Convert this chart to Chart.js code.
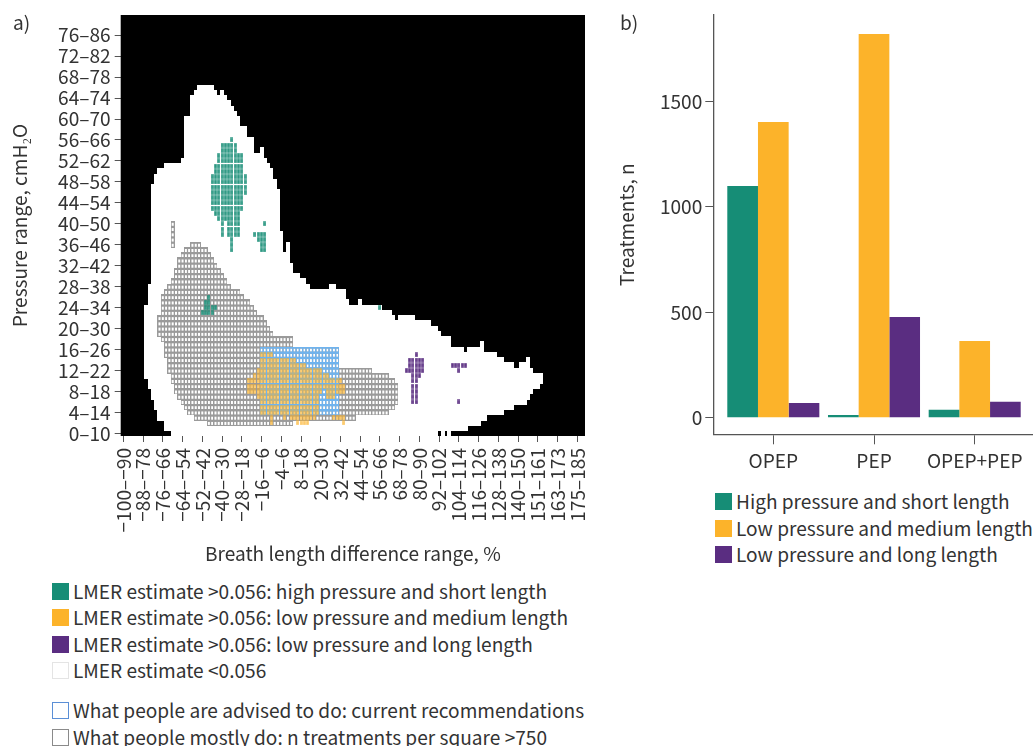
<!DOCTYPE html>
<html><head><meta charset="utf-8">
<script src="https://cdn.jsdelivr.net/npm/chart.js@4"></script>
<style>
html,body{margin:0;padding:0;background:#fff;width:1035px;height:746px;overflow:hidden;font-family:"Noto Sans CJK SC","Noto Sans",sans-serif;color:#333}
canvas{position:absolute;display:block}
.t{position:absolute;font-size:19.1px;line-height:26px;white-space:nowrap}
.s{position:absolute;width:17px;height:17px;box-sizing:border-box}
</style></head><body>
<canvas id="a" width="600" height="570" style="left:0;top:0;width:600px;height:570px"></canvas>
<canvas id="b" width="425" height="480" style="left:610px;top:0;width:425px;height:480px"></canvas>
<div id="labels"></div>
<script>
const xTickLabels=["−100–−90","−88–−78","−76–−66","−64–−54","−52–−42","−40–−30","−28–−18","−16–−6","−4–6","8–18","20–30","32–42","44–54","56–66","68–78","80–90","92–102","104–114","116–126","128–138","140–150","151–161","163–173","175–185"];
const yTickLabels=["0–10","4–14","8–18","12–22","16–26","20–30","24–34","28–38","32–42","36–46","40–50","44–54","48–58","52–62","56–66","60–70","64–74","68–78","72–82","76–86"];
const xTickCells=[0,6,12,18,24,30,36,42,48,54,60,66,72,78,84,90,96,102,108,114,120,126,132,138];
const yTickCells=[0,4,8,12,16,20,24,28,32,36,40,44,48,52,56,60,64,68,72,76];
// cell blocks: [rowFrom,rowTo,colFrom,colTo]
const observedCells=[[66,66,23,27],[65,65,22,28],[65,65,30,30],[64,64,21,31],[63,63,21,32],[62,62,21,33],[61,61,21,34],[59,60,19,35],[57,58,19,37],[55,56,19,39],[54,54,19,39],[54,54,42,42],[53,53,19,42],[52,52,18,43],[51,51,13,44],[50,50,11,45],[49,49,10,45],[48,48,10,46],[47,47,9,46],[39,46,9,47],[37,38,9,48],[35,36,9,48],[35,36,50,50],[33,34,9,50],[31,32,9,51],[30,30,9,53],[29,29,9,55],[28,28,8,56],[28,28,63,64],[26,27,8,67],[25,25,8,68],[25,25,72,72],[24,24,7,78],[23,23,7,81],[22,22,7,82],[22,22,84,88],[21,21,7,93],[20,20,7,95],[19,19,7,96],[17,18,7,99],[17,17,109,109],[16,16,7,103],[16,16,105,109],[15,15,7,113],[14,14,7,115],[14,14,123,123],[13,13,7,118],[13,13,121,123],[12,12,7,124],[11,11,7,127],[10,10,8,127],[9,9,8,126],[8,8,9,124],[7,7,9,123],[6,6,10,122],[5,5,10,118],[4,4,11,115],[3,3,11,110],[2,2,13,108],[1,1,13,104],[0,0,15,95],[0,0,97,97],[0,0,99,99]];
const mostlyDoCells=[[36,36,21,23],[35,35,19,25],[34,34,18,26],[33,33,17,27],[32,32,17,28],[31,31,16,29],[30,30,16,30],[29,29,15,31],[28,28,14,32],[27,27,13,35],[26,26,12,36],[25,25,12,38],[24,24,12,39],[23,23,12,40],[22,22,11,42],[21,21,11,43],[20,20,11,44],[19,19,11,45],[18,18,12,51],[17,17,13,51],[16,16,13,65],[15,15,13,65],[14,14,14,65],[13,13,14,65],[12,12,14,75],[11,11,15,80],[10,10,15,82],[9,9,16,83],[8,8,16,83],[7,7,17,83],[6,6,18,83],[5,5,19,82],[4,4,20,80],[3,3,22,70],[2,2,26,51],[36,40,15,15]];
const advisedCells=[[4,16,42,65]];
const highShortCells=[[56,56,33,33],[54,55,30,34],[52,53,29,36],[50,51,28,36],[46,49,27,37],[43,45,27,36],[42,42,28,35],[41,41,29,35],[38,40,30,30],[38,40,32,35],[35,37,33,33],[40,40,43,43],[38,38,40,43],[37,37,41,43],[35,36,42,43],[26,26,26,26],[25,25,25,26],[24,24,25,28],[23,23,24,27],[24,24,78,78]];
const lowMediumCells=[[15,15,42,45],[14,14,42,52],[13,13,42,55],[12,12,41,60],[11,11,40,62],[10,10,38,66],[9,9,38,67],[8,8,38,60],[8,8,62,67],[7,7,41,59],[7,7,62,64],[4,6,42,59],[3,3,45,45],[3,3,49,49],[3,3,51,58],[3,3,64,67],[2,2,45,45],[2,2,53,56],[2,2,67,67]];
const lowLongCells=[[15,15,89,89],[13,14,87,91],[12,12,86,91],[11,11,88,90],[6,10,88,89],[13,13,100,104],[12,12,102,102],[6,6,102,102]];
const treatmentCategories=["OPEP","PEP","OPEP+PEP"];
const highShortTreatments=[1100,13,37];
const lowMediumTreatments=[1403,1821,364];
const lowLongTreatments=[70,478,75];
const barTicks=[0,500,1000,1500];

const TEAL="#168d76",ORANGE="#fcb32a",PURPLE="#5a2d81",BLUE="#6fb3ee",GREY="#9a9a9a",FONT='"Noto Sans CJK SC"',INK="#333",AXIS="#555",SIZE=19.1;
const expand=b=>{const o=[];for(const [r0,r1,c0,c1] of b)for(let r=r0;r<=r1;r++)for(let c=c0;c<=c1;c++)o.push({x:c,y:r});return o};
function stamp(kind,color,alpha){const c=document.createElement("canvas"),g=c.getContext("2d");
 if(kind==="solid"){c.width=4;c.height=6;g.fillStyle=color;g.fillRect(0,0,4,6)}
 if(kind==="ring"){c.width=4;c.height=6;g.fillStyle=color;g.fillRect(0,0,4,6);g.clearRect(1,1.5,2,3)}
 if(kind==="fill"){c.width=3;c.height=5;g.globalAlpha=alpha;g.fillStyle=color;g.fillRect(.2,.2,2.6,4.6)}
 return c}
const layer=(b,st)=>({data:expand(b),pointStyle:st,pointRadius:2,pointHoverRadius:2,showLine:false,borderWidth:0});
const blackArea={id:"blackArea",beforeDatasetsDraw(c){const a=c.chartArea,g=c.ctx;g.save();g.fillStyle="#000";g.fillRect(a.left,a.top,a.width,a.height);g.restore()}};
const noPadX=s=>{s.paddingLeft=0;s.paddingRight=0};
const noPadY=s=>{s.paddingTop=0;s.paddingBottom=0};
Chart.defaults.animation=false;Chart.defaults.font.family=FONT;Chart.defaults.font.size=SIZE;Chart.defaults.color=INK;

new Chart(document.getElementById("a"),{type:"scatter",
 data:{datasets:[layer(highShortCells,stamp("fill",TEAL,.9)),layer(lowMediumCells,stamp("fill",ORANGE,.72)),layer(lowLongCells,stamp("fill",PURPLE,.95)),layer(advisedCells,stamp("ring",BLUE)),layer(mostlyDoCells,stamp("ring",GREY)),layer(observedCells,stamp("solid","#fff"))]},
 plugins:[blackArea],
 options:{responsive:false,events:[],layout:{padding:{top:15,right:15,left:0,bottom:0}},plugins:{legend:{display:false},tooltip:{enabled:false}},
  scales:{
   x:{type:"linear",min:-0.79,max:140.3,border:{display:false},grid:{drawOnChartArea:false,tickLength:6,tickColor:AXIS},
    afterBuildTicks:s=>{s.ticks=xTickCells.map(v=>({value:v}))},
    ticks:{autoSkip:false,minRotation:90,maxRotation:90,padding:6,callback:(v,i)=>xTickLabels[i]},
    afterFit:s=>{s.height=134;noPadX(s)},
    title:{display:true,text:"Breath length difference range, %",font:{size:SIZE},padding:{top:0,bottom:5}}},
   y:{type:"linear",min:-0.5,max:79.85,border:{display:false},grid:{drawOnChartArea:false,tickLength:6,tickColor:AXIS},
    afterBuildTicks:s=>{s.ticks=yTickCells.map(v=>({value:v}))},
    ticks:{autoSkip:false,padding:4,callback:(v,i)=>yTickLabels[i]},
    afterFit:s=>{s.width=120.7;noPadY(s)},
    title:{display:true,text:"Pressure range, cmH₂O",font:{size:SIZE},padding:{top:8,bottom:0}}}
  }}});

const barSet=(v,c)=>({data:v.map((y,i)=>({x:i,y})),backgroundColor:c,borderWidth:0,categoryPercentage:.914,barPercentage:1});
new Chart(document.getElementById("b"),{type:"bar",
 data:{datasets:[barSet(highShortTreatments,TEAL),barSet(lowMediumTreatments,ORANGE),barSet(lowLongTreatments,PURPLE)]},
 options:{responsive:false,events:[],layout:{padding:{top:15,right:2.3,left:0,bottom:0}},plugins:{legend:{display:false},tooltip:{enabled:false}},
  scales:{
   x:{type:"linear",min:-0.596,max:2.576,offset:false,border:{color:AXIS,width:1.3},grid:{offset:false,drawOnChartArea:false,tickLength:10,tickColor:AXIS},
    afterBuildTicks:s=>{s.ticks=treatmentCategories.map((_,i)=>({value:i}))},
    ticks:{autoSkip:false,maxRotation:0,padding:5,callback:(v,i)=>treatmentCategories[i]},
    afterFit:s=>{s.height=45.7;noPadX(s)}},
   y:{type:"linear",min:-79,max:1911,border:{color:AXIS,width:1.3},grid:{drawOnChartArea:false,tickLength:8,tickColor:AXIS},
    afterBuildTicks:s=>{s.ticks=barTicks.map(v=>({value:v}))},
    ticks:{padding:3,callback:v=>String(v)},
    afterFit:s=>{s.width=103.3;noPadY(s)},
    title:{display:true,text:"Treatments, n",font:{size:SIZE},padding:{top:5,bottom:0}}}
  }}});

const legendA=[["LMER estimate >0.056: high pressure and short length",582.5,TEAL,TEAL],["LMER estimate >0.056: low pressure and medium length",609,ORANGE,ORANGE],["LMER estimate >0.056: low pressure and long length",635.5,PURPLE,PURPLE],["LMER estimate <0.056",662,"#fff","#e4e4e4"],["What people are advised to do: current recommendations",701.5,"#fff","#5b8fd6"],["What people mostly do: n treatments per square >750",729,"#fff","#8a8a8a"]];
const legendB=[["High pressure and short length",493,TEAL],["Low pressure and medium length",519.5,ORANGE],["Low pressure and long length",546,PURPLE]];
const host=document.getElementById("labels");
const add=(cls,css,txt)=>{const d=document.createElement("div");d.className=cls;d.style.cssText=css;if(txt)d.textContent=txt;host.appendChild(d)};
for(const [t,y,f,b] of legendA){add("s",`left:52px;top:${y}px;background:${f};border:1.2px solid ${b}`);add("t",`left:73px;top:${y-5}px`,t)}
for(const [t,y,f] of legendB){add("s",`left:715px;top:${y}px;background:${f}`);add("t",`left:736px;top:${y-5}px`,t)}
add("t","left:13px;top:9px","a)");add("t","left:620px;top:9px","b)");
</script></body></html>
